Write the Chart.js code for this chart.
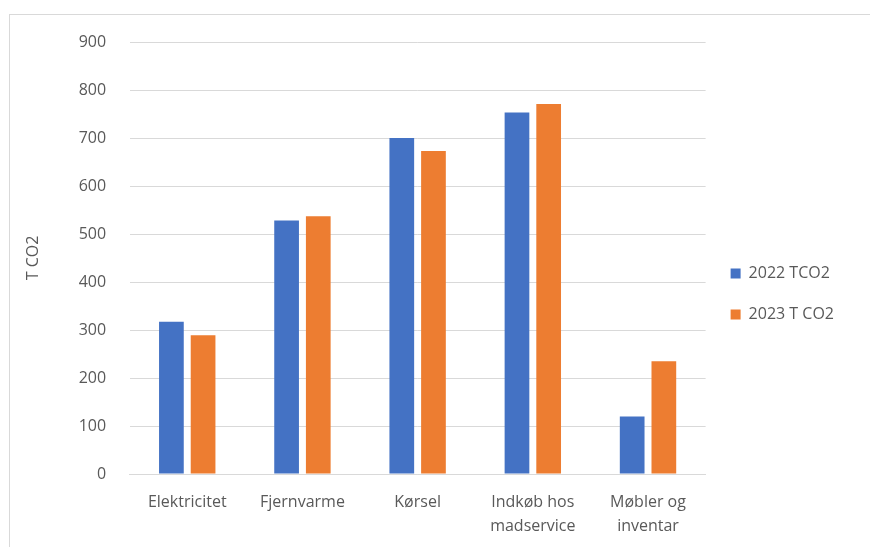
<!DOCTYPE html>
<html>
<head>
<meta charset="utf-8">
<script src="https://cdn.jsdelivr.net/npm/chart.js@4"></script>
<style>
  html, body { margin: 0; padding: 0; background: #fff; }
  #wrap { position: relative; width: 870px; height: 547px; overflow: hidden; }
  #frame { position: absolute; left: 9px; top: 14px; width: 870px; height: 600px; border: 1px solid #d9d9d9; box-sizing: border-box; }
  #chart { position: absolute; left: 0; top: 0; }
</style>
</head>
<body>
<div id="wrap">
  <div id="frame"></div>
  <canvas id="chart" width="870" height="547"></canvas>
</div>
<script>
// Data
const categories = ['Elektricitet', 'Fjernvarme', 'Kørsel', ['Indkøb hos', 'madservice'], ['Møbler og', 'inventar']];
const values2022 = [317, 528, 700, 753, 120];
const values2023 = [289, 537, 673, 771, 235];
const seriesNames = ['2022 TCO2', '2023 T CO2'];

const textColor = '#595959';
const gridColor = '#d9d9d9';
const fontFamily = "'Open Sans', 'Liberation Sans', sans-serif";

new Chart(document.getElementById('chart'), {
  type: 'bar',
  data: {
    labels: categories,
    datasets: [
      { label: seriesNames[0], data: values2022, backgroundColor: '#4472c4' },
      { label: seriesNames[1], data: values2023, backgroundColor: '#ed7d31' }
    ]
  },
  options: {
    responsive: false,
    animation: false,
    devicePixelRatio: 1,
    layout: { padding: { top: 42, left: 20, right: 26, bottom: 1 } },
    datasets: { bar: { categoryPercentage: 0.55, barPercentage: 0.78 } },
    scales: {
      x: {
        grid: { display: false },
        border: { color: gridColor },
        ticks: { color: textColor, font: { family: fontFamily, size: 16, lineHeight: 1.5 }, padding: 8, maxRotation: 0 }
      },
      y: {
        min: 0,
        max: 900,
        ticks: { stepSize: 100, color: textColor, font: { family: fontFamily, size: 16 }, padding: 23.5 },
        grid: { color: gridColor, drawTicks: false },
        border: { display: false },
        title: { display: true, text: 'T CO2', color: textColor, font: { family: fontFamily, size: 16 }, padding: { bottom: 12 } }
      }
    },
    plugins: {
      legend: {
        position: 'right',
        labels: {
          boxWidth: 10,
          boxHeight: 10,
          padding: 25,
          color: textColor,
          font: { family: fontFamily, size: 16 }
        }
      },
      tooltip: { enabled: false }
    }
  }
});
</script>
</body>
</html>
